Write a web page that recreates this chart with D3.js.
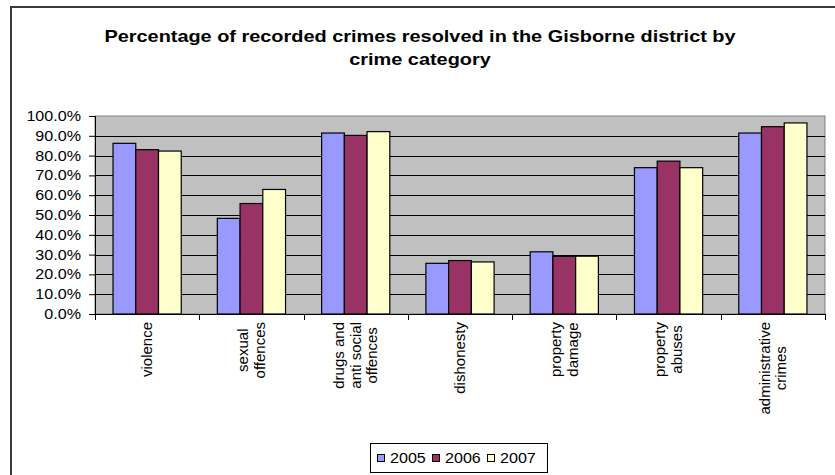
<!DOCTYPE html>
<html><head><meta charset="utf-8">
<script src="https://cdn.jsdelivr.net/npm/d3@7"></script>
<style>
html,body{margin:0;padding:0;background:#fff;}
svg{display:block;font-family:"Liberation Sans",Arial,sans-serif;}
</style></head>
<body>
<svg id="chart" width="835" height="475"></svg>
<script>
const categories = ["violence","sexual offences","drugs and anti social offences","dishonesty","property damage","property abuses","administrative crimes"];
const categoryLines = [["violence"],["sexual","offences"],["drugs and","anti social","offences"],["dishonesty"],["property","damage"],["property","abuses"],["administrative","crimes"]];
const seriesNames = ["2005","2006","2007"];
const v2005 = [86.2, 48.3, 91.4, 25.6, 31.4, 73.9, 91.4];
const v2006 = [83.0, 55.8, 90.2, 27.0, 29.1, 77.2, 94.6];
const v2007 = [82.3, 62.9, 92.1, 26.3, 29.2, 73.9, 96.5];
const seriesColors = ["#9999FF","#993366","#FFFFCC"];
const yTicks = [0,10,20,30,40,50,60,70,80,90,100];
const titleLines = ["Percentage of recorded crimes resolved in the Gisborne district by","crime category"];

const series = [v2005, v2006, v2007];
const svg = d3.select("#chart");
const SX = 1.15;

// outer chart border (extends past the window)
svg.append("rect").attr("x",11).attr("y",7).attr("width",900).attr("height",520)
  .attr("fill","#fff").attr("stroke","#3a3a3a").attr("stroke-width",2);

// title
svg.append("g").selectAll("text").data(titleLines).join("text")
  .attr("transform",(d,i)=>`translate(420,${42+i*23}) scale(1.17,1)`)
  .attr("text-anchor","middle").attr("font-weight","bold").attr("font-size",17)
  .attr("fill","#000").text(d=>d);

const L = 95, R = 825, T = 116, B = 314;
const x0 = d3.scaleBand().domain(categories).range([L,R]).paddingInner(0).paddingOuter(0);
const bw = x0.bandwidth()*0.218;
const x1 = d3.scaleBand().domain(seriesNames).range([0,bw*3]);
const y = d3.scaleLinear().domain([0,100]).range([B,T]);

// plot area
svg.append("rect").attr("x",L).attr("y",T).attr("width",R-L).attr("height",B-T)
  .attr("fill","#C0C0C0").attr("stroke","#808080").attr("stroke-width",1);

// gridlines
svg.append("g").selectAll("line").data(yTicks.filter(t=>t>0&&t<100)).join("line")
  .attr("x1",L).attr("x2",R).attr("y1",d=>Math.round(y(d))+0.5).attr("y2",d=>Math.round(y(d))+0.5)
  .attr("stroke","#000").attr("stroke-width",1);

// bars
const gap = x0.bandwidth()-bw*3;
const groups = svg.append("g").selectAll("g").data(categories).join("g")
  .attr("transform",d=>`translate(${x0(d)+gap/2},0)`);
groups.selectAll("rect").data((d,i)=>series.map((s,j)=>({name:seriesNames[j],v:s[i],c:seriesColors[j]}))).join("rect")
  .attr("x",d=>x1(d.name)).attr("width",x1.bandwidth())
  .attr("y",d=>y(d.v)).attr("height",d=>B-y(d.v))
  .attr("fill",d=>d.c).attr("stroke","#000").attr("stroke-width",1.2);

// y axis
const yAxis = svg.append("g").attr("transform",`translate(${L},0)`)
  .call(d3.axisLeft(y).tickValues(yTicks).tickSize(6).tickFormat(()=>""));
yAxis.select(".domain").attr("stroke","#000").attr("d",`M0.5,${T}V${B}`);
yAxis.selectAll(".tick line").attr("stroke","#000");
svg.append("g").selectAll("text").data(yTicks).join("text")
  .attr("transform",d=>`translate(81,${y(d)+5}) scale(${SX},1)`)
  .attr("text-anchor","end").attr("font-size",14).attr("fill","#000")
  .text(d=>d3.format(".1f")(d)+"%");

// x axis
svg.append("line").attr("x1",L).attr("x2",R).attr("y1",B+0.5).attr("y2",B+0.5).attr("stroke","#000");
const bounds = categories.map(c=>x0(c)).concat([R]);
svg.append("g").selectAll("line").data(bounds).join("line")
  .attr("x1",d=>Math.round(d)+0.5).attr("x2",d=>Math.round(d)+0.5).attr("y1",B).attr("y2",B+6)
  .attr("stroke","#000");

// x labels (rotated, centred lines)
const lineGap = 14.5;
categories.forEach((c,i)=>{
  const lines = categoryLines[i];
  const g = svg.append("g");
  const texts = g.selectAll("text").data(lines).join("text")
    .attr("font-size",15).attr("fill","#000").attr("text-anchor","middle").text(d=>d);
  const maxLen = d3.max(texts.nodes(),n=>n.getComputedTextLength());
  const cy = 322 + maxLen/2;
  const cx = x0(c)+x0.bandwidth()/2 + 5;
  const n = lines.length;
  texts.attr("transform",(d,k)=>`translate(${cx + (k-(n-1)/2)*lineGap*SX},${cy}) rotate(-90)`);
});

// legend
const lg = svg.append("g");
lg.append("rect").attr("x",370.5).attr("y",443.5).attr("width",177).attr("height",29)
  .attr("fill","#fff").attr("stroke","#000").attr("stroke-width",1);
const legX = [377,432,487];
seriesNames.forEach((s,j)=>{
  lg.append("rect").attr("x",legX[j]+0.5).attr("y",454.5).attr("width",7).attr("height",7)
    .attr("fill",seriesColors[j]).attr("stroke","#000").attr("stroke-width",1);
  lg.append("text").attr("transform",`translate(${legX[j]+13},463) scale(${SX},1)`)
    .attr("font-size",14).attr("fill","#000").text(s);
});
</script>
</body></html>
